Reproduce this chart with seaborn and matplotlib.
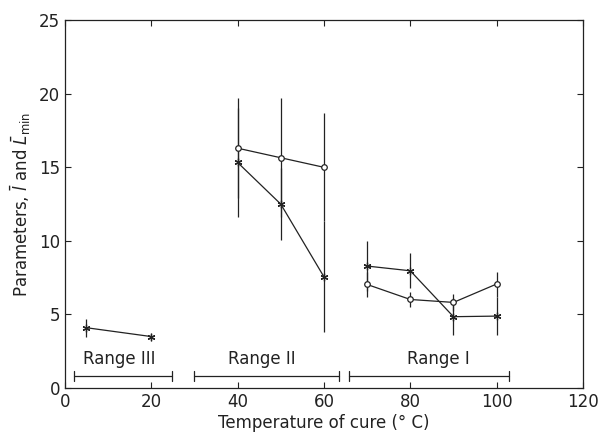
import matplotlib
matplotlib.use("Agg")
import matplotlib.pyplot as plt
import seaborn as sns
import pandas as pd
import numpy as np

# ---- data ----
range_names = ["Range III", "Range II", "Range I"]
range_starts = [2, 30, 65.8]
range_ends = [24.9, 63.5, 102.8]
range_label_x = [12.7, 45.7, 86.6]

# star series (L min) per range
star_x_III = [5, 20]
star_y_III = [4.1, 3.5]
star_e_III = [0.6, 0.2]

star_x_II = [40, 50, 60]
star_y_II = [15.33, 12.5, 7.56]
star_e_II = [3.7, 2.45, 3.76]

circ_x_II = [40, 50, 60]
circ_y_II = [16.3, 15.65, 15.0]
circ_e_II = [3.4, 4.05, 3.66]

star_x_I = [70, 80, 90, 100]
star_y_I = [8.29, 7.97, 4.85, 4.89]
star_e_I = [1.7, 1.18, 1.25, 1.3]

circ_x_I = [70, 80, 90, 100]
circ_y_I = [7.04, 6.02, 5.82, 7.07]
circ_e_I = [0.88, 0.5, 0.6, 0.85]

x_ticks = [0, 20, 40, 60, 80, 100, 120]
y_ticks = [0, 5, 10, 15, 20, 25]

sns.set_style("ticks")
plt.rcParams['font.family'] = ['DejaVu Sans']

fig = plt.figure(figsize=(6.01, 4.38), dpi=100)
ax = fig.add_axes([0.108, 0.114, 0.862, 0.840])

star_marker = (6, 2, 0)

segments = [
    (star_x_III, star_y_III, star_e_III, star_marker, 'black'),
    (star_x_II, star_y_II, star_e_II, star_marker, 'black'),
    (circ_x_II, circ_y_II, circ_e_II, 'o', 'white'),
    (star_x_I, star_y_I, star_e_I, star_marker, 'black'),
    (circ_x_I, circ_y_I, circ_e_I, 'o', 'white'),
]

for xs, ys, es, mk, fc in segments:
    ax.errorbar(xs, ys, yerr=es, fmt='none', ecolor='#222222', elinewidth=0.9, capsize=0, zorder=2)
    df = pd.DataFrame({"x": xs, "y": ys})
    sns.lineplot(data=df, x="x", y="y", ax=ax, color='#222222', linewidth=0.9,
                 marker=mk, markersize=4 if mk == 'o' else 5.5,
                 markerfacecolor=fc, markeredgecolor='#222222', markeredgewidth=0.9,
                 estimator=None, sort=False, zorder=3)

# range bars
for name, s, e, lx in zip(range_names, range_starts, range_ends, range_label_x):
    ax.plot([s, e], [0.84, 0.84], color='#222222', linewidth=0.9)
    ax.plot([s, s], [0.5, 1.18], color='#222222', linewidth=0.9)
    ax.plot([e, e], [0.5, 1.18], color='#222222', linewidth=0.9)
    ax.text(lx, 1.95, name, ha='center', va='center', fontsize=12, color='#222222')

ax.set_xlim(0, 120)
ax.set_ylim(0, 25)
ax.set_xticks(x_ticks)
ax.set_yticks(y_ticks)
ax.tick_params(direction='in', top=True, right=True, labelsize=12, colors='#222222', length=4)
ax.set_xlabel("Temperature of cure (° C)", fontsize=12, color='#222222', labelpad=2)
ax.set_ylabel(r"Parameters, $\bar{l}$ and $\bar{L}_{\rm min}$", fontsize=12, color='#222222')
for sp in ax.spines.values():
    sp.set_color('#222222')
    sp.set_linewidth(0.9)

fig.savefig("out.png", dpi=100)
